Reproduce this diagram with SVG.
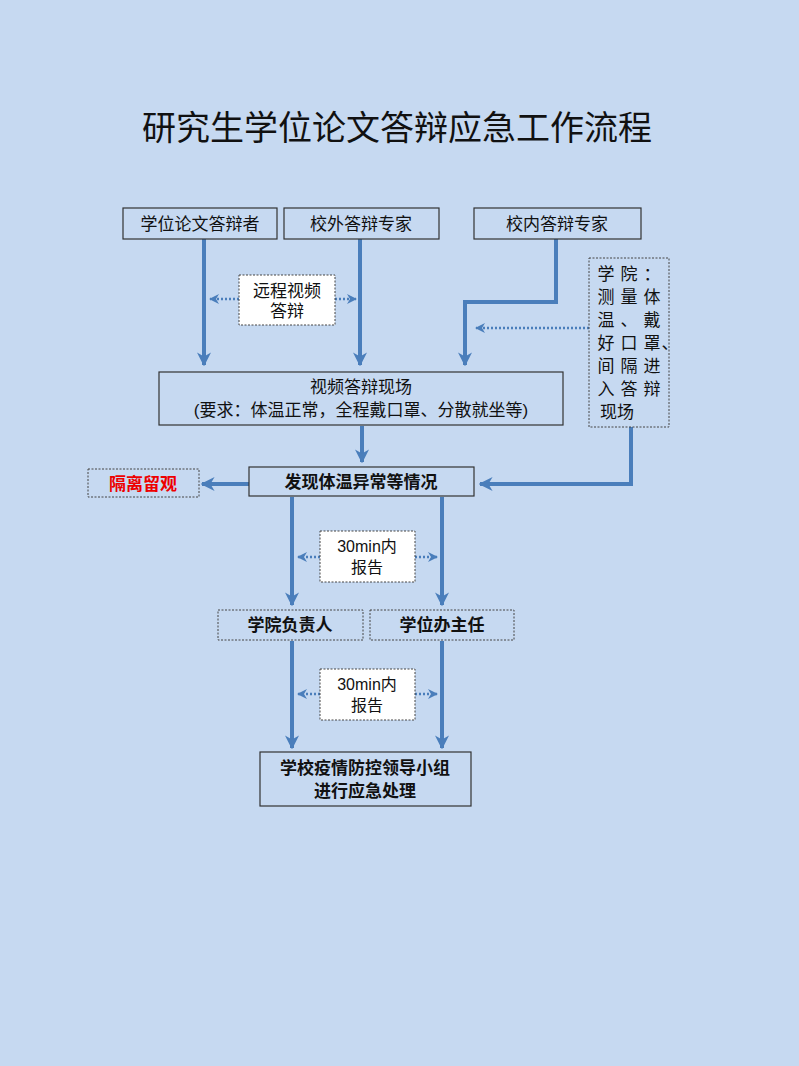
<svg xmlns="http://www.w3.org/2000/svg" width="799" height="1066" viewBox="0 0 799 1066">
<style>
text{font-family:"Liberation Sans","Noto Sans CJK SC",sans-serif;fill:#111;text-anchor:middle}
.b{fill:#C6D9F1;stroke:#333;stroke-width:1.2}
.d{fill:#C6D9F1;stroke:#444;stroke-width:1;stroke-dasharray:2 1.5}
.w{fill:#fff;stroke:#444;stroke-width:1;stroke-dasharray:2 1.5}
.c{fill:none;stroke:#4A7EBB;stroke-width:4}
.t{fill:none;stroke:#4A7EBB;stroke-width:2.5;stroke-dasharray:2 2}
.bo{font-weight:bold}
</style>
<defs>
<marker id="a" viewBox="0 0 10 10" refX="9" refY="5" markerWidth="3.5" markerHeight="3.5" orient="auto" markerUnits="strokeWidth"><path d="M0,0 L10,5 L0,10 L3,5 z" fill="#4A7EBB"/></marker>
<marker id="s" viewBox="0 0 10 10" refX="9" refY="5" markerWidth="4" markerHeight="4" orient="auto" markerUnits="strokeWidth"><path d="M0,0 L10,5 L0,10 L3,5 z" fill="#4A7EBB"/></marker>
</defs>
<rect width="799" height="1066" fill="#C6D9F1"/>
<text x="397" y="140" font-size="34">研究生学位论文答辩应急工作流程</text>
<g id="connectors">
<path class="c" d="M204,239 V365" marker-end="url(#a)"/>
<path class="c" d="M360,239 V365" marker-end="url(#a)"/>
<path class="c" d="M556,239 V302 H465 V365" marker-end="url(#a)"/>
<path class="t" d="M589,328 H476" marker-end="url(#s)"/>
<path class="t" d="M239,299 H210" marker-end="url(#s)"/>
<path class="t" d="M335,299 H356" marker-end="url(#s)"/>
<path class="c" d="M362,426 V462" marker-end="url(#a)"/>
<path class="c" d="M631,427 V484 H480" marker-end="url(#a)"/>
<path class="c" d="M249,484 H202" marker-end="url(#a)"/>
<path class="c" d="M292,497 V605" marker-end="url(#a)"/>
<path class="c" d="M442,497 V605" marker-end="url(#a)"/>
<path class="t" d="M320,557 H298" marker-end="url(#s)"/>
<path class="t" d="M415,557 H437" marker-end="url(#s)"/>
<path class="c" d="M292,641 V748" marker-end="url(#a)"/>
<path class="c" d="M442,641 V748" marker-end="url(#a)"/>
<path class="t" d="M320,694 H298" marker-end="url(#s)"/>
<path class="t" d="M415,694 H437" marker-end="url(#s)"/>
</g>
<g id="n1"><rect class="b" x="123" y="208" width="154" height="31"/><text x="200" y="230" font-size="17">学位论文答辩者</text></g>
<g id="n2"><rect class="b" x="284" y="208" width="155" height="31"/><text x="361" y="230" font-size="17">校外答辩专家</text></g>
<g id="n3"><rect class="b" x="474" y="208" width="167" height="31"/><text x="557" y="230" font-size="17">校内答辩专家</text></g>
<g id="side"><rect class="d" x="589" y="258" width="80" height="169"/>
<g font-size="17"><text x="606" y="280">学</text><text x="629" y="280">院</text><text x="652" y="280">：</text>
<text x="606" y="303">测</text><text x="629" y="303">量</text><text x="652" y="303">体</text>
<text x="606" y="326">温</text><text x="629" y="326">、</text><text x="652" y="326">戴</text>
<text x="606" y="349">好</text><text x="629" y="349">口</text><text x="652" y="349">罩</text><text x="670" y="349">、</text>
<text x="606" y="372">间</text><text x="629" y="372">隔</text><text x="652" y="372">进</text>
<text x="606" y="395">入</text><text x="629" y="395">答</text><text x="652" y="395">辩</text>
<text x="617" y="418">现场</text></g></g>
<g id="l1"><rect class="w" x="239" y="275" width="96" height="50"/><text x="287" y="297" font-size="17">远程视频</text><text x="287" y="317" font-size="17">答辩</text></g>
<g id="n4"><rect class="b" x="159" y="372" width="404" height="53"/><text x="361" y="393" font-size="17">视频答辩现场</text><text x="361" y="416" font-size="17">(要求：体温正常，全程戴口罩、分散就坐等)</text></g>
<g id="n5"><rect class="b" x="249" y="467" width="225" height="29"/><text x="361" y="488" font-size="17" class="bo">发现体温异常等情况</text></g>
<g id="n6"><rect class="d" x="88" y="469" width="111" height="28"/><text x="143" y="490" font-size="17" class="bo" style="fill:#E00">隔离留观</text></g>
<g id="l2"><rect class="w" x="320" y="531" width="95" height="51"/><text x="367" y="552" font-size="16">30min内</text><text x="367" y="573" font-size="16">报告</text></g>
<g id="n7"><rect class="d" x="218" y="610" width="145" height="30"/><text x="290" y="631" font-size="17" class="bo">学院负责人</text></g>
<g id="n8"><rect class="d" x="370" y="610" width="144" height="30"/><text x="442" y="631" font-size="17" class="bo">学位办主任</text></g>
<g id="l3"><rect class="w" x="320" y="669" width="95" height="51"/><text x="367" y="690" font-size="16">30min内</text><text x="367" y="711" font-size="16">报告</text></g>
<g id="n9"><rect class="b" x="260" y="752" width="211" height="54"/><text x="365" y="774" font-size="17" class="bo">学校疫情防控领导小组</text><text x="365" y="797" font-size="17" class="bo">进行应急处理</text></g>
</svg>
